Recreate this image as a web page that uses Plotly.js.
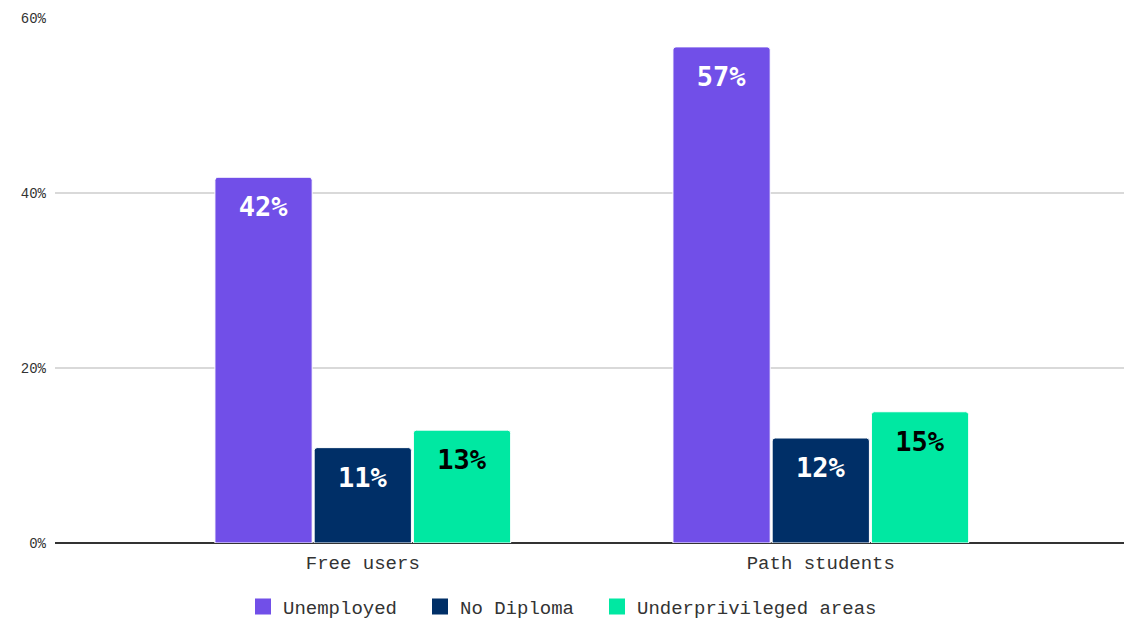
<!DOCTYPE html>
<html><head><meta charset="utf-8">
<script src="https://cdn.plot.ly/plotly-3.0.1.min.js"></script>
<style>html,body{margin:0;padding:0;background:#fff}#chart{width:1124px;height:622px}</style>
</head><body><div id="chart"></div>
<script>
const categories = ["Free users", "Path students"];
const seriesNames = ["Unemployed", "No Diploma", "Underprivileged areas"];
const unemployed = [41.8, 56.7];
const noDiploma = [10.9, 12.0];
const underprivileged = [12.9, 15.0];
const labelsUnemployed = ["42%", "57%"];
const labelsNoDiploma = ["11%", "12%"];
const labelsUnderprivileged = ["13%", "15%"];
const yTickVals = [0, 20, 40, 60];
const yTickText = ["0%", "20%", "40%", "60%"];

const colors = ["#714FE8", "#002F67", "#00E8A2"];
const labelColors = ["#ffffff", "#ffffff", "#000000"];
const values = [unemployed, noDiploma, underprivileged];
const labels = [labelsUnemployed, labelsNoDiploma, labelsUnderprivileged];

const MONO = "'Courier New', 'Liberation Mono', monospace";
const legendIds = ["legend", "legend2", "legend3"];
const legendX = [243, 420, 597];

const traces = values.map((v, i) => ({
  type: "bar",
  name: seriesNames[i],
  x: categories,
  y: v,
  text: labels[i].map(t => "<span style='font-size:1px'>&nbsp;</span><br>" + t),
  texttemplate: "%{text}",
  textposition: "inside",
  insidetextanchor: "end",
  textangle: 0,
  constraintext: "none",
  textfont: {family: "DejaVu Sans Mono", size: 27, color: labelColors[i], weight: "bold"},
  marker: {color: colors[i], line: {color: "#ffffff", width: 1}, cornerradius: 3},
  showlegend: false,
  hoverinfo: "skip"
}));

// legend entries with square markers, one legend per series
seriesNames.forEach((n, i) => {
  traces.push({
    type: "scatter", mode: "markers", name: n,
    x: [null], y: [null],
    marker: {symbol: "square", size: 20, color: colors[i]},
    legend: legendIds[i],
    showlegend: true, hoverinfo: "skip"
  });
});

const legendStyle = (px) => ({
  orientation: "h",
  xref: "container", x: px / 1124, xanchor: "left",
  y: -0.085, yanchor: "top",
  font: {family: MONO, size: 19, color: "#333333"},
  itemwidth: 30,
  bgcolor: "rgba(0,0,0,0)"
});

const layout = {
  width: 1124, height: 622,
  margin: {l: 55, r: 0, t: 18, b: 79, autoexpand: false},
  paper_bgcolor: "#ffffff", plot_bgcolor: "#ffffff",
  barmode: "group",
  bargap: 0.35,
  bargroupgap: 0.02,
  font: {family: MONO, size: 15, color: "#333333"},
  xaxis: {
    type: "category",
    range: [-0.672, 1.662],
    showgrid: false,
    showline: false,
    ticks: "",
    ticklabelstandoff: 6,
    tickfont: {family: MONO, size: 19, color: "#333333"}
  },
  yaxis: {
    range: [0, 60],
    tickvals: yTickVals,
    ticktext: yTickText,
    showgrid: true,
    gridcolor: "#d9d9d9",
    gridwidth: 1.5,
    zeroline: true,
    zerolinecolor: "#333333",
    zerolinewidth: 2,
    ticks: "",
    ticklabelstandoff: 8,
    tickfont: {family: MONO, size: 14, color: "#333333"}
  },
  showlegend: true,
  legend: legendStyle(legendX[0]),
  legend2: legendStyle(legendX[1]),
  legend3: legendStyle(legendX[2])
};

Plotly.newPlot("chart", traces, layout, {displayModeBar: false, staticPlot: true});
</script>
</body></html>
